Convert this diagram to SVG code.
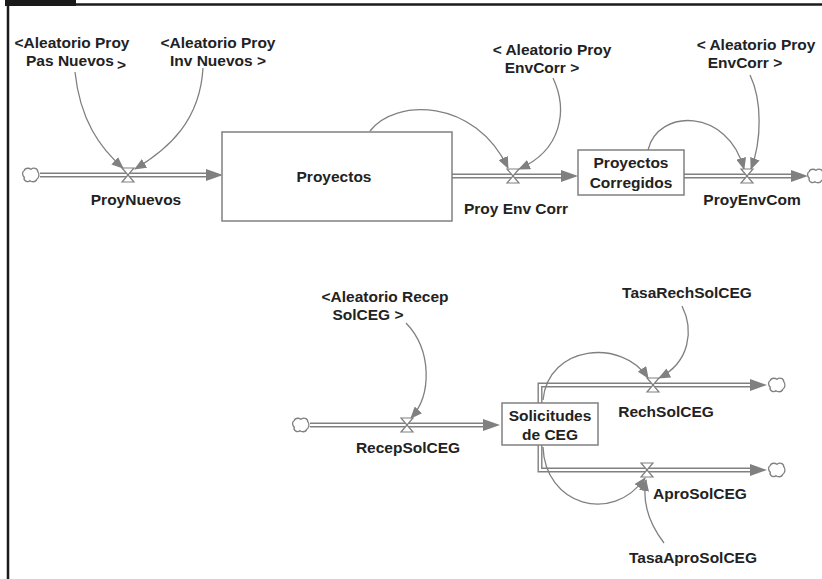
<svg xmlns="http://www.w3.org/2000/svg" width="822" height="579" viewBox="0 0 822 579">
<defs>
<style>
text{font-family:"Liberation Sans",Arial,sans-serif;font-weight:bold;font-size:15.5px;fill:#222;text-anchor:middle;}
.stock{fill:#fff;stroke:#808080;stroke-width:1.5;}
.pipeo{fill:none;stroke:#808080;stroke-width:5;stroke-linejoin:miter;}
.pipei{fill:none;stroke:#fff;stroke-width:2.2;stroke-linejoin:miter;}
.head{fill:#808080;}
.link{fill:none;stroke:#808080;stroke-width:1.3;marker-end:url(#ah);}
.valve{fill:#fff;stroke:#808080;stroke-width:1.2;}
.cloud{fill:#fff;stroke:#808080;stroke-width:1.2;}
</style>
<marker id="ah" markerUnits="userSpaceOnUse" markerWidth="12" markerHeight="10" viewBox="0 0 12 10" refX="11" refY="5" orient="auto">
<path d="M0,0 L12,5 L0,10 Z" fill="#808080"/>
</marker>
<symbol id="cl" viewBox="-8 -7 16 14" overflow="visible">
<path d="M-6,-4 C-5,-7 -1,-6 0,-5 C2,-7 6,-6 6,-3 C8,-1 7,3 5,4 C4,7 0,6 -1,5 C-3,7 -7,5 -6,2 C-8,0 -8,-3 -6,-4 Z"/>
</symbol>
</defs>
<rect width="822" height="579" fill="#fff"/>
<g id="frame">
<rect x="5" y="0" width="71" height="6" fill="#1a1a1a"/>
<line x1="5" y1="4.5" x2="822" y2="4.5" stroke="#1a1a1a" stroke-width="2.5"/>
<line x1="8" y1="0" x2="8" y2="579" stroke="#1a1a1a" stroke-width="2.5"/>
</g>

<g id="connectors">
<path class="pipeo" d="M40,175 L208,175"/><path class="pipei" d="M40,175 L208,175"/>
<polygon class="head" points="206,169 223,175 206,181"/>
<path class="pipeo" d="M452,176 L563,176"/><path class="pipei" d="M452,176 L563,176"/>
<polygon class="head" points="561,170 578,176 561,182"/>
<path class="pipeo" d="M684,176 L793,176"/><path class="pipei" d="M684,176 L793,176"/>
<polygon class="head" points="791,170 808,176 791,182"/>
<path class="pipeo" d="M310,425 L485,425"/><path class="pipei" d="M310,425 L485,425"/>
<polygon class="head" points="483,419 500,425 483,431"/>
<path class="pipeo" d="M540,403 L540,385 L752,385"/><path class="pipei" d="M540,404 L540,385 L752,385"/>
<polygon class="head" points="750,379 767,385 750,391"/>
<path class="pipeo" d="M540,445 L540,470 L752,470"/><path class="pipei" d="M540,444 L540,470 L752,470"/>
<polygon class="head" points="750,464 767,470 750,476"/>
<path class="link" d="M75,72 C80,120 100,148 123,168"/>
<path class="link" d="M203,68 C200,120 170,148 135,169"/>
<path class="link" d="M370,131 C395,98 475,98 508,168"/>
<path class="link" d="M553,78 C568,110 562,150 519,169"/>
<path class="link" d="M648,150 C658,108 728,108 744,169"/>
<path class="link" d="M750,75 C762,100 762,140 751,169"/>
<path class="link" d="M406,323 C432,350 432,395 411,418"/>
<path class="link" d="M682,306 C694,330 690,362 659,378"/>
<path class="link" d="M543,400 C548,345 622,338 648,378"/>
<path class="link" d="M543,447 C545,505 612,525 645,478"/>
<path class="link" d="M664,543 C648,522 642,502 646,480"/>
</g>

<g id="cloud1"><use href="#cl" x="22" y="167" width="18" height="16" class="cloud"/></g>
<g id="cloud2"><use href="#cl" x="807" y="168" width="18" height="16" class="cloud"/></g>
<g id="cloud3"><use href="#cl" x="292" y="417" width="18" height="16" class="cloud"/></g>
<g id="cloud4"><use href="#cl" x="768" y="377" width="18" height="16" class="cloud"/></g>
<g id="cloud5"><use href="#cl" x="768" y="462" width="18" height="16" class="cloud"/></g>

<g id="ProyNuevos">
<path class="valve" d="M122,168 L134,168 L128,175 Z M128,175 L122,182 L134,182 Z"/>
<text x="136" y="205">ProyNuevos</text>
</g>
<g id="Proyectos">
<rect class="stock" x="222" y="132" width="230" height="89"/>
<text x="334" y="182">Proyectos</text>
</g>
<g id="ProyEnvCorr">
<path class="valve" d="M507,169 L519,169 L513,176 Z M513,176 L507,183 L519,183 Z"/>
<text x="516" y="214">Proy Env Corr</text>
</g>
<g id="ProyectosCorregidos">
<rect class="stock" x="578" y="150" width="106" height="45"/>
<text x="631" y="168">Proyectos</text>
<text x="631" y="188">Corregidos</text>
</g>
<g id="ProyEnvCom">
<path class="valve" d="M741,169 L753,169 L747,176 Z M747,176 L741,183 L753,183 Z"/>
<text x="752" y="205">ProyEnvCom</text>
</g>
<g id="AleatorioPasNuevos">
<text x="72" y="48">&lt;Aleatorio Proy</text>
<text x="76" y="66">Pas Nuevos<tspan dx="3" dy="4">&gt;</tspan></text>
</g>
<g id="AleatorioInvNuevos">
<text x="218" y="48">&lt;Aleatorio Proy</text>
<text x="218" y="66">Inv Nuevos &gt;</text>
</g>
<g id="AleatorioEnvCorr1">
<text x="552" y="55">&lt; Aleatorio Proy</text>
<text x="542" y="73">EnvCorr &gt;</text>
</g>
<g id="AleatorioEnvCorr2">
<text x="756" y="50">&lt; Aleatorio Proy</text>
<text x="745" y="68">EnvCorr &gt;</text>
</g>
<g id="AleatorioRecepSolCEG">
<text x="385" y="302">&lt;Aleatorio Recep</text>
<text x="368" y="320">SolCEG &gt;</text>
</g>
<g id="RecepSolCEG">
<path class="valve" d="M401,418 L413,418 L407,425 Z M407,425 L401,432 L413,432 Z"/>
<text x="408" y="453">RecepSolCEG</text>
</g>
<g id="SolicitudesCEG">
<rect class="stock" x="502" y="403" width="96" height="42"/>
<text x="550" y="421">Solicitudes</text>
<text x="550" y="440">de CEG</text>
</g>
<g id="RechSolCEG">
<path class="valve" d="M647,378 L659,378 L653,385 Z M653,385 L647,392 L659,392 Z"/>
<text x="666" y="417">RechSolCEG</text>
</g>
<g id="AproSolCEG">
<path class="valve" d="M641,463 L653,463 L647,470 Z M647,470 L641,477 L653,477 Z"/>
<text x="700" y="499">AproSolCEG</text>
</g>
<g id="TasaRechSolCEG">
<text x="687" y="298">TasaRechSolCEG</text>
</g>
<g id="TasaAproSolCEG">
<text x="693" y="563">TasaAproSolCEG</text>
</g>
</svg>
